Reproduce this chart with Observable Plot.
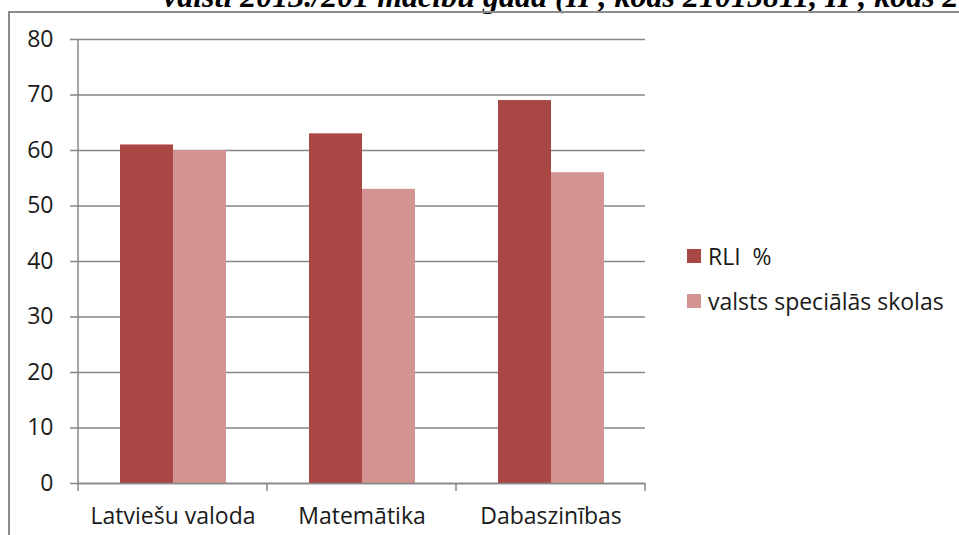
<!DOCTYPE html>
<html>
<head>
<meta charset="utf-8">
<script src="https://cdn.jsdelivr.net/npm/d3@7"></script>
<script src="https://cdn.jsdelivr.net/npm/@observablehq/plot@0.6"></script>
<style>
  html, body { margin: 0; padding: 0; background: #fff; overflow: hidden; }
  #wrap { position: relative; width: 959px; height: 535px; overflow: hidden; }
  #title { position: absolute; left: 163px; top: -19px; font: italic bold 32px/31px "Liberation Serif", serif; white-space: pre; color: #000; }
  #frame { position: absolute; left: 8px; top: 11px; width: 2000px; height: 2000px; border-left: 2px solid #8c8c8c; border-top: 2px solid #8c8c8c; }
  #chart { position: absolute; left: 0; top: 0; }
  #legend { position: absolute; left: 687px; top: 0; font: 23px "Open Sans", sans-serif; color: #000; }
  .item { position: absolute; left: 0; display: flex; align-items: center; white-space: pre; }
  .sw { width: 14px; height: 14px; margin-right: 7px; flex: none; }
</style>
</head>
<body>
<div id="wrap">
  <div id="title"></div>
  <div id="frame"></div>
  <div id="chart"></div>
  <div id="legend"></div>
</div>
<script>
const titleText = "valsti 2013./201 mācību gadā (II , kods 21015811, II , kods 21015611)";
const categories = ["Latviešu valoda", "Matemātika", "Dabaszinības"];
const seriesNames = ["RLI  %", "valsts speciālās skolas"];
const rliValues = [61, 63, 69];
const valstsValues = [60, 53, 56];
const yTicks = [0, 10, 20, 30, 40, 50, 60, 70, 80];
const seriesColors = ["#A94744", "#D39391"];

document.getElementById("title").textContent = titleText;

const data = categories.flatMap((c, i) => [
  {category: c, series: seriesNames[0], value: rliValues[i]},
  {category: c, series: seriesNames[1], value: valstsValues[i]}
]);

const gray = "#868686";
const font = "'Open Sans', sans-serif";

const chart = Plot.plot({
  width: 680,
  height: 535,
  marginLeft: 78,
  marginRight: 35,
  marginTop: 39,
  marginBottom: 52,
  style: {fontFamily: font, fontSize: "23px", color: "#000", background: "transparent", overflow: "visible"},
  fx: {domain: categories, padding: 0, label: null},
  x: {domain: seriesNames, paddingInner: 0, paddingOuter: 0.77, axis: null},
  y: {domain: [0, 80], ticks: yTicks, label: null},
  color: {domain: seriesNames, range: seriesColors},
  marks: [
    Plot.gridY(yTicks, {stroke: gray, strokeOpacity: 1, strokeWidth: 1.5}),
    Plot.barY(data, {fx: "category", x: "series", y: "value", fill: "series"}),
    Plot.ruleY([0], {stroke: gray, strokeWidth: 1.5}),
    Plot.axisY(yTicks, {tickSize: 8, tickPadding: 17, label: null, stroke: gray, strokeWidth: 1.5, fontSize: 23, fill: "#1a1a1a"}),
    Plot.axisFx({anchor: "bottom", tickSize: 0, tickPadding: 24, label: null, fontSize: 23, fill: "#1a1a1a"})
  ]
});

document.getElementById("chart").appendChild(chart);

// axis line and category boundary ticks from the library's scales
const fx = chart.scale("fx");
const y = chart.scale("y");
const svg = d3.select(chart);
const y0 = y.apply(0), yTop = y.apply(80);
const x0 = fx.apply(categories[0]);
const g = svg.append("g").attr("stroke", gray).attr("stroke-width", 1.5);
g.append("line").attr("x1", x0).attr("x2", x0).attr("y1", yTop).attr("y2", y0);
const bounds = categories.map(c => fx.apply(c));
bounds.push(fx.apply(categories[categories.length - 1]) + fx.bandwidth);
bounds.forEach(b => g.append("line").attr("x1", b).attr("x2", b).attr("y1", y0).attr("y2", y0 + 8));

// legend
const legend = document.getElementById("legend");
const legendY = [256, 301];
seriesNames.forEach((s, i) => {
  const item = document.createElement("div");
  item.className = "item";
  item.style.top = (legendY[i] - 16) + "px";
  item.style.height = "32px";
  const sw = document.createElement("div");
  sw.className = "sw";
  sw.style.background = seriesColors[i];
  const t = document.createElement("span");
  t.style.color = "#1a1a1a";
  t.textContent = s;
  item.appendChild(sw);
  item.appendChild(t);
  legend.appendChild(item);
});
</script>
</body>
</html>
